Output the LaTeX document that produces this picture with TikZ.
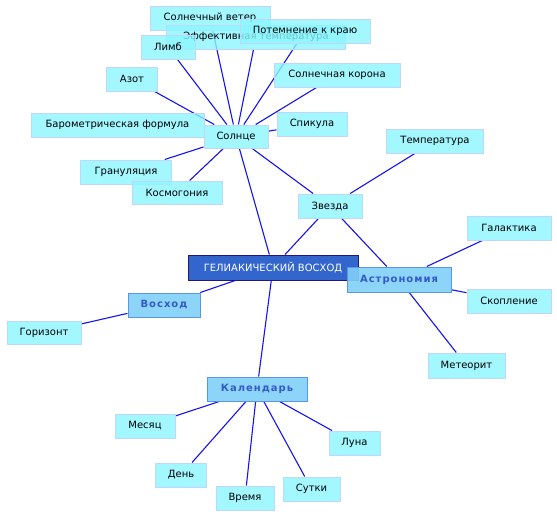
\documentclass[tikz,border=0pt]{standalone}
\usepackage{fontspec}
\setmainfont{DejaVu Sans}
\newfontfamily\catfont{DejaVu Sans}[LetterSpace=10]
\usetikzlibrary{backgrounds}
\definecolor{leaffill}{RGB}{140,246,255}
\definecolor{leafdraw}{RGB}{190,215,255}
\definecolor{catfill}{RGB}{128,208,248}
\definecolor{catdraw}{RGB}{90,150,230}
\definecolor{cattext}{RGB}{50,90,200}
\definecolor{mainfill}{RGB}{51,102,204}
\definecolor{maindraw}{RGB}{40,20,120}
\definecolor{linkcol}{RGB}{20,20,240}
\tikzset{
  leaf/.style={draw=leafdraw, line width=1pt, fill=leaffill, fill opacity=0.8, text opacity=1,
    inner xsep=2pt, inner ysep=0pt, minimum height=24pt, font=\fontsize{10}{12}\selectfont, text=black},
  cat/.style={draw=catdraw, line width=1pt, fill=catfill, fill opacity=0.9, text opacity=1,
    inner xsep=2pt, inner ysep=0pt, minimum height=24pt, font=\catfont\bfseries\fontsize{10}{12}\selectfont, text=cattext},
  mainbox/.style={draw=maindraw, line width=1pt, fill=mainfill, text=white,
    inner xsep=2pt, inner ysep=0pt, minimum height=25pt, font=\fontsize{10}{12}\selectfont},
  link/.style={draw=linkcol, line width=1.1pt}
}
\begin{document}
\begin{tikzpicture}[x=1pt,y=-1pt]
\useasboundingbox (0,0) rectangle (557,517);
% top cluster
\node[leaf, minimum width=120pt] (sv) at (210,18) {Солнечный ветер};
\node[leaf, minimum width=179pt] (eff) at (256,37) {Эффективная температура};
\node[leaf, minimum width=130pt] (pot) at (305,31) {Потемнение к краю};
\node[leaf, minimum width=54pt] (limb) at (168,47) {Лимб};
\node[leaf, minimum width=51pt] (azot) at (132,79) {Азот};
\node[leaf, minimum width=126pt] (kor) at (337,75) {Солнечная корона};
\node[leaf, minimum width=173pt] (baro) at (117.5,125) {Барометрическая формула};
\node[leaf, minimum width=64pt, minimum height=23pt] (sun) at (236,136.5) {Солнце};
\node[leaf, minimum width=70pt] (spik) at (312,124) {Спикула};
\node[leaf, minimum width=91pt] (gran) at (126,172) {Грануляция};
\node[leaf, minimum width=90pt, minimum height=23pt] (kosm) at (177,192.5) {Космогония};
\node[leaf, minimum width=97pt] (temp) at (435,141) {Температура};
\node[leaf, minimum width=64pt] (zvezda) at (330,206) {Звезда};
% center
\node[mainbox, minimum width=170pt] (main) at (273,267.5) {ГЕЛИАКИЧЕСКИЙ ВОСХОД};
\node[cat, minimum width=104pt, minimum height=25pt] (astro) at (399,279.5) {Астрономия};
\node[leaf, minimum width=84pt] (gal) at (509,228) {Галактика};
\node[leaf, minimum width=84pt] (skop) at (509,301) {Скопление};
\node[leaf, minimum width=77pt, minimum height=25pt] (met) at (466.5,365.5) {Метеорит};
\node[cat, minimum width=72pt] (voskhod) at (164,305) {Восход};
\node[leaf, minimum width=74pt, minimum height=23pt] (gor) at (44,332.5) {Горизонт};
% calendar
\node[cat, minimum width=100pt] (kal) at (257,389) {Календарь};
\node[leaf, minimum width=60pt] (mes) at (145,426) {Месяц};
\node[leaf, minimum width=51pt] (den) at (181,475) {День};
\node[leaf, minimum width=58pt] (vrem) at (245,498) {Время};
\node[leaf, minimum width=57pt] (sut) at (311.5,489) {Сутки};
\node[leaf, minimum width=51pt] (luna) at (354.5,443) {Луна};
\begin{pgfonlayer}{background}
\fill[white] (0,0) rectangle (557,517);
\foreach \n in {sv,eff,pot,limb,azot,kor,spik,gran,kosm,zvezda,main}
  \draw[link] (sun) -- (\n);
\foreach \n in {temp,main,astro}
  \draw[link] (zvezda) -- (\n);
\foreach \n in {gal,skop,met}
  \draw[link] (astro) -- (\n);
\draw[link] (main) -- (voskhod);
\draw[link] (voskhod) -- (gor);
\draw[link] (main) -- (kal);
\foreach \n in {mes,den,vrem,sut,luna}
  \draw[link] (kal) -- (\n);
\end{pgfonlayer}
\end{tikzpicture}
\end{document}
